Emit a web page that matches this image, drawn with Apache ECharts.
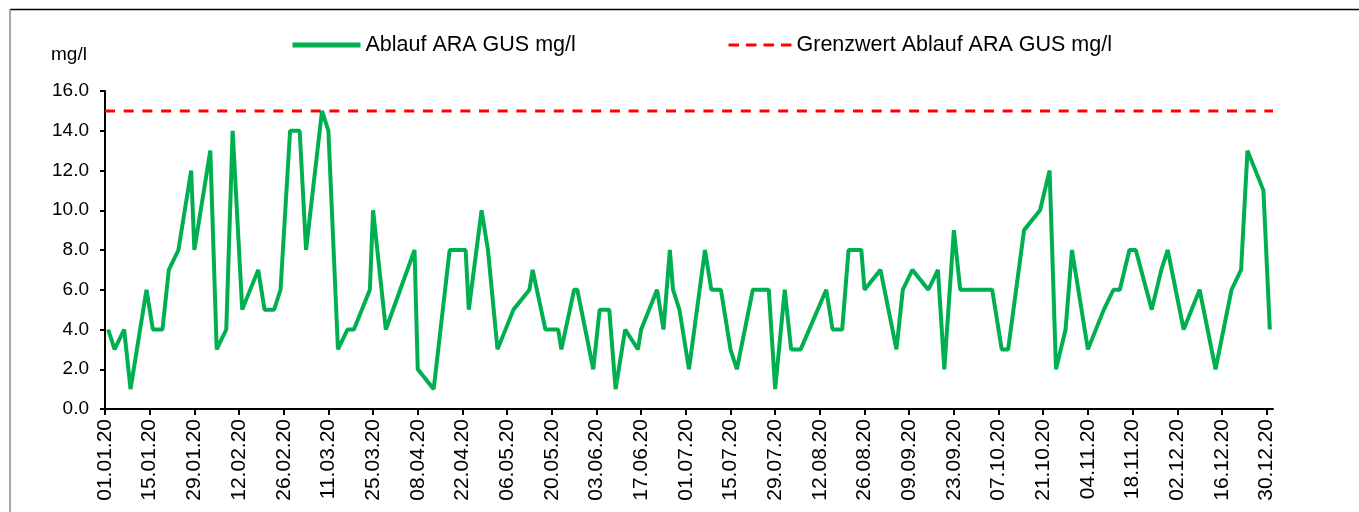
<!DOCTYPE html>
<html>
<head>
<meta charset="utf-8">
<script src="https://cdn.jsdelivr.net/npm/echarts@6/dist/echarts.min.js"></script>
<style>
  html, body { margin: 0; padding: 0; background: #fff; }
  #chart { width: 1359px; height: 512px; }
</style>
</head>
<body>
<div id="chart"></div>
<script>
// Tage seit 01.01.2020 (Messtage) und Messwerte Ablauf in mg/l
const days = [
  1, 3, 6, 8, 13, 15, 18, 20, 23, 27, 28, 33, 35, 38, 40, 43, 48, 50, 53, 55,
  58, 61, 63, 68, 70, 73, 76, 78, 83, 84, 88, 97, 98, 103, 108, 113, 114, 118, 120, 123,
  128, 133, 134, 138, 142, 143, 147, 148, 153, 155, 158, 160, 163, 167, 168, 173, 175, 177, 178, 180,
  183, 188, 190, 193, 196, 198, 203, 208, 210, 213, 215, 218, 226, 228, 231, 233, 237, 238, 243, 248,
  250, 253, 258, 261, 263, 266, 268, 278, 281, 283, 288, 293, 296, 298, 301, 303, 308, 313, 316, 318,
  321, 323, 328, 331, 333, 338, 343, 348, 353, 356, 358, 363, 365
]
const ablauf = [
  4, 3, 4, 1, 6, 4, 4, 7, 8, 12, 8, 13, 3, 4, 14, 5, 7, 5, 5, 6,
  14, 14, 8, 15, 14, 3, 4, 4, 6, 10, 4, 8, 2, 1, 8, 8, 5, 10, 8, 3,
  5, 6, 7, 4, 4, 3, 6, 6, 2, 5, 5, 1, 4, 3, 4, 6, 4, 8, 6, 5,
  2, 8, 6, 6, 3, 2, 6, 6, 1, 6, 3, 3, 6, 4, 4, 8, 8, 6, 7, 3,
  6, 7, 6, 7, 2, 9, 6, 6, 3, 3, 9, 10, 12, 2, 4, 8, 3, 5, 6, 6,
  8, 8, 5, 7, 8, 4, 6, 2, 6, 7, 13, 11, 4
]
// Grenzwert ueber das ganze Jahr
const grenzDays = [0, 366]
const grenzwert = [15, 15]

const xTicks = []
for (let d = 0; d <= 364; d += 14) xTicks.push(d)

const fmtDate = (d) => {
  const dt = new Date(Date.UTC(2020, 0, 1) + d * 86400000)
  const dd = String(dt.getUTCDate()).padStart(2, '0')
  const mm = String(dt.getUTCMonth() + 1).padStart(2, '0')
  return dd + '.' + mm + '.' + String(dt.getUTCFullYear()).slice(2)
}

const FONT = "'Liberation Sans', Arial, sans-serif"
const chart = echarts.init(document.getElementById('chart'), null, { renderer: 'canvas' })

const legendBase = {
  top: 34,
  padding: 0,
  itemHeight: 14,
  itemStyle: { opacity: 0 },
  textStyle: { fontSize: 21.5, fontFamily: FONT, color: '#000' }
}

chart.setOption({
  backgroundColor: '#fff',
  animation: false,
  graphic: [
    { type: 'line', shape: { x1: 10, y1: 9.5, x2: 1359, y2: 9.5 }, style: { stroke: '#000', lineWidth: 1.5 } },
    { type: 'line', shape: { x1: 10, y1: 9, x2: 10, y2: 512 }, style: { stroke: '#888', lineWidth: 1.5 } },
    { type: 'text', left: 51, top: 45, style: { text: 'mg/l', fontSize: 19, fontFamily: FONT, fill: '#000' } }
  ],
  legend: [
    Object.assign({}, legendBase, {
      left: 290, itemWidth: 68, data: ['Ablauf ARA GUS mg/l'],
      lineStyle: { width: 5 }
    }),
    Object.assign({}, legendBase, {
      left: 727, itemWidth: 63, data: ['Grenzwert Ablauf ARA GUS mg/l'],
      lineStyle: { width: 3, type: [10.5, 7] }
    })
  ],
  grid: { left: 105, right: 86, top: 91, bottom: 103, outerBoundsMode: 'none' },
  xAxis: {
    type: 'value',
    min: 0,
    max: 366,
    interval: 14,
    splitLine: { show: false },
    axisLine: { onZero: false, lineStyle: { color: '#000', width: 2 } },
    axisTick: { customValues: xTicks, length: 6, lineStyle: { color: '#000', width: 2 } },
    axisLabel: {
      customValues: xTicks,
      rotate: 90,
      margin: 10,
      fontSize: 21,
      fontFamily: FONT,
      color: '#000',
      formatter: (v) => fmtDate(v)
    }
  },
  yAxis: {
    type: 'value',
    min: 0,
    max: 16,
    interval: 2,
    splitLine: { show: false },
    axisLine: { show: true, lineStyle: { color: '#000', width: 2 } },
    axisTick: { show: true, length: 5, lineStyle: { color: '#000', width: 2 } },
    axisLabel: {
      margin: 16,
      fontSize: 19,
      fontFamily: FONT,
      color: '#000',
      formatter: (v) => v.toFixed(1)
    }
  },
  series: [
    {
      name: 'Ablauf ARA GUS mg/l',
      type: 'line',
      data: days.map((d, i) => [d, ablauf[i]]),
      symbol: 'none',
      lineStyle: { color: '#00B050', width: 4, join: 'bevel' },
      itemStyle: { color: '#00B050' },
      z: 3
    },
    {
      name: 'Grenzwert Ablauf ARA GUS mg/l',
      type: 'line',
      data: grenzDays.map((d, i) => [d, grenzwert[i]]),
      symbol: 'none',
      lineStyle: { color: '#FF0000', width: 3, type: [10, 8.7] },
      itemStyle: { color: '#FF0000' },
      z: 2
    }
  ]
})
</script>
</body>
</html>
